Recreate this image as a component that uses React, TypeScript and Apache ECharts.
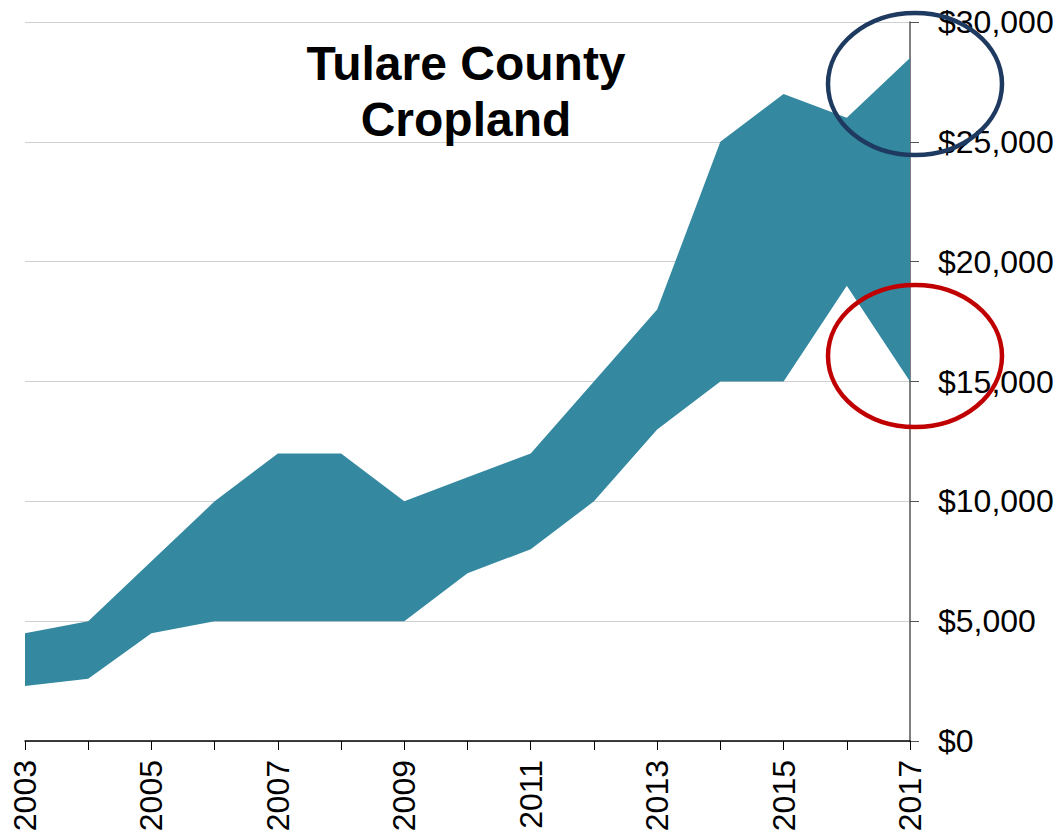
import React, { useEffect, useRef } from "react";
import * as echarts from "echarts";

const years = ["2003","2004","2005","2006","2007","2008","2009","2010","2011","2012","2013","2014","2015","2016","2017"];
const lowValues = [2300, 2600, 4500, 5000, 5000, 5000, 5000, 7000, 8000, 10000, 13000, 15000, 15000, 19000, 15000];
const highValues = [4500, 5000, 7500, 10000, 12000, 12000, 10000, 11000, 12000, 15000, 18000, 25000, 27000, 26000, 28500];
const titleText = "Tulare County\nCropland";

export default function App() {
  const ref = useRef<HTMLDivElement>(null);
  useEffect(() => {
    if (!ref.current) return;
    const chart = echarts.init(ref.current, null, { renderer: "svg" });
    const band = highValues.map((h, i) => h - lowValues[i]);
    chart.setOption({
      animation: false,
      backgroundColor: "#ffffff",
      title: {
        text: titleText,
        left: 461,
        top: 30,
        textAlign: "center",
        textStyle: {
          fontFamily: "Liberation Sans, Arial, sans-serif",
          fontSize: 48,
          fontWeight: "bold",
          lineHeight: 56,
          color: "#000000",
        },
      },
      grid: { left: 25, right: 148, top: 22, bottom: 95 },
      xAxis: {
        type: "category",
        data: years,
        boundaryGap: false,
        axisLine: { lineStyle: { color: "#000000", width: 1.5 } },
        axisTick: { interval: 0, length: 9, lineStyle: { color: "#000000" } },
        axisLabel: {
          interval: 1,
          rotate: 90,
          margin: 19,
          fontSize: 32,
          fontFamily: "Liberation Sans, Arial, sans-serif",
          color: "#000000",
        },
        splitLine: { show: false },
      },
      yAxis: {
        type: "value",
        position: "right",
        min: 0,
        max: 30000,
        interval: 5000,
        axisLine: { show: true, lineStyle: { color: "#555555", width: 1.5 } },
        axisTick: { show: true, length: 9, lineStyle: { color: "#555555" } },
        axisLabel: {
          margin: 28,
          fontSize: 32,
          fontFamily: "Liberation Sans, Arial, sans-serif",
          color: "#000000",
          formatter: (v: number) => "$" + v.toLocaleString("en-US"),
        },
        splitLine: { show: true, lineStyle: { color: "#d0d0d0", width: 1 } },
      },
      series: [
        {
          name: "Low",
          type: "line",
          stack: "band",
          data: lowValues,
          symbol: "none",
          lineStyle: { width: 0, opacity: 0 },
          areaStyle: { opacity: 0 },
          silent: true,
        },
        {
          name: "Range",
          type: "line",
          stack: "band",
          data: band,
          symbol: "none",
          lineStyle: { width: 0, opacity: 0 },
          areaStyle: { color: "#34889f", opacity: 1 },
        },
      ],
      graphic: [
        {
          type: "ellipse",
          shape: { cx: 915, cy: 84, rx: 87, ry: 71 },
          style: { fill: "none", stroke: "#1f3a60", lineWidth: 4.5 },
          z: 100,
        },
        {
          type: "ellipse",
          shape: { cx: 915, cy: 356, rx: 87, ry: 71 },
          style: { fill: "none", stroke: "#c00000", lineWidth: 4.5 },
          z: 100,
        },
      ],
    });
    return () => chart.dispose();
  }, []);
  return (
    <div
      ref={ref}
      style={{ position: "absolute", left: 0, top: 0, width: 1058, height: 836 }}
    />
  );
}
